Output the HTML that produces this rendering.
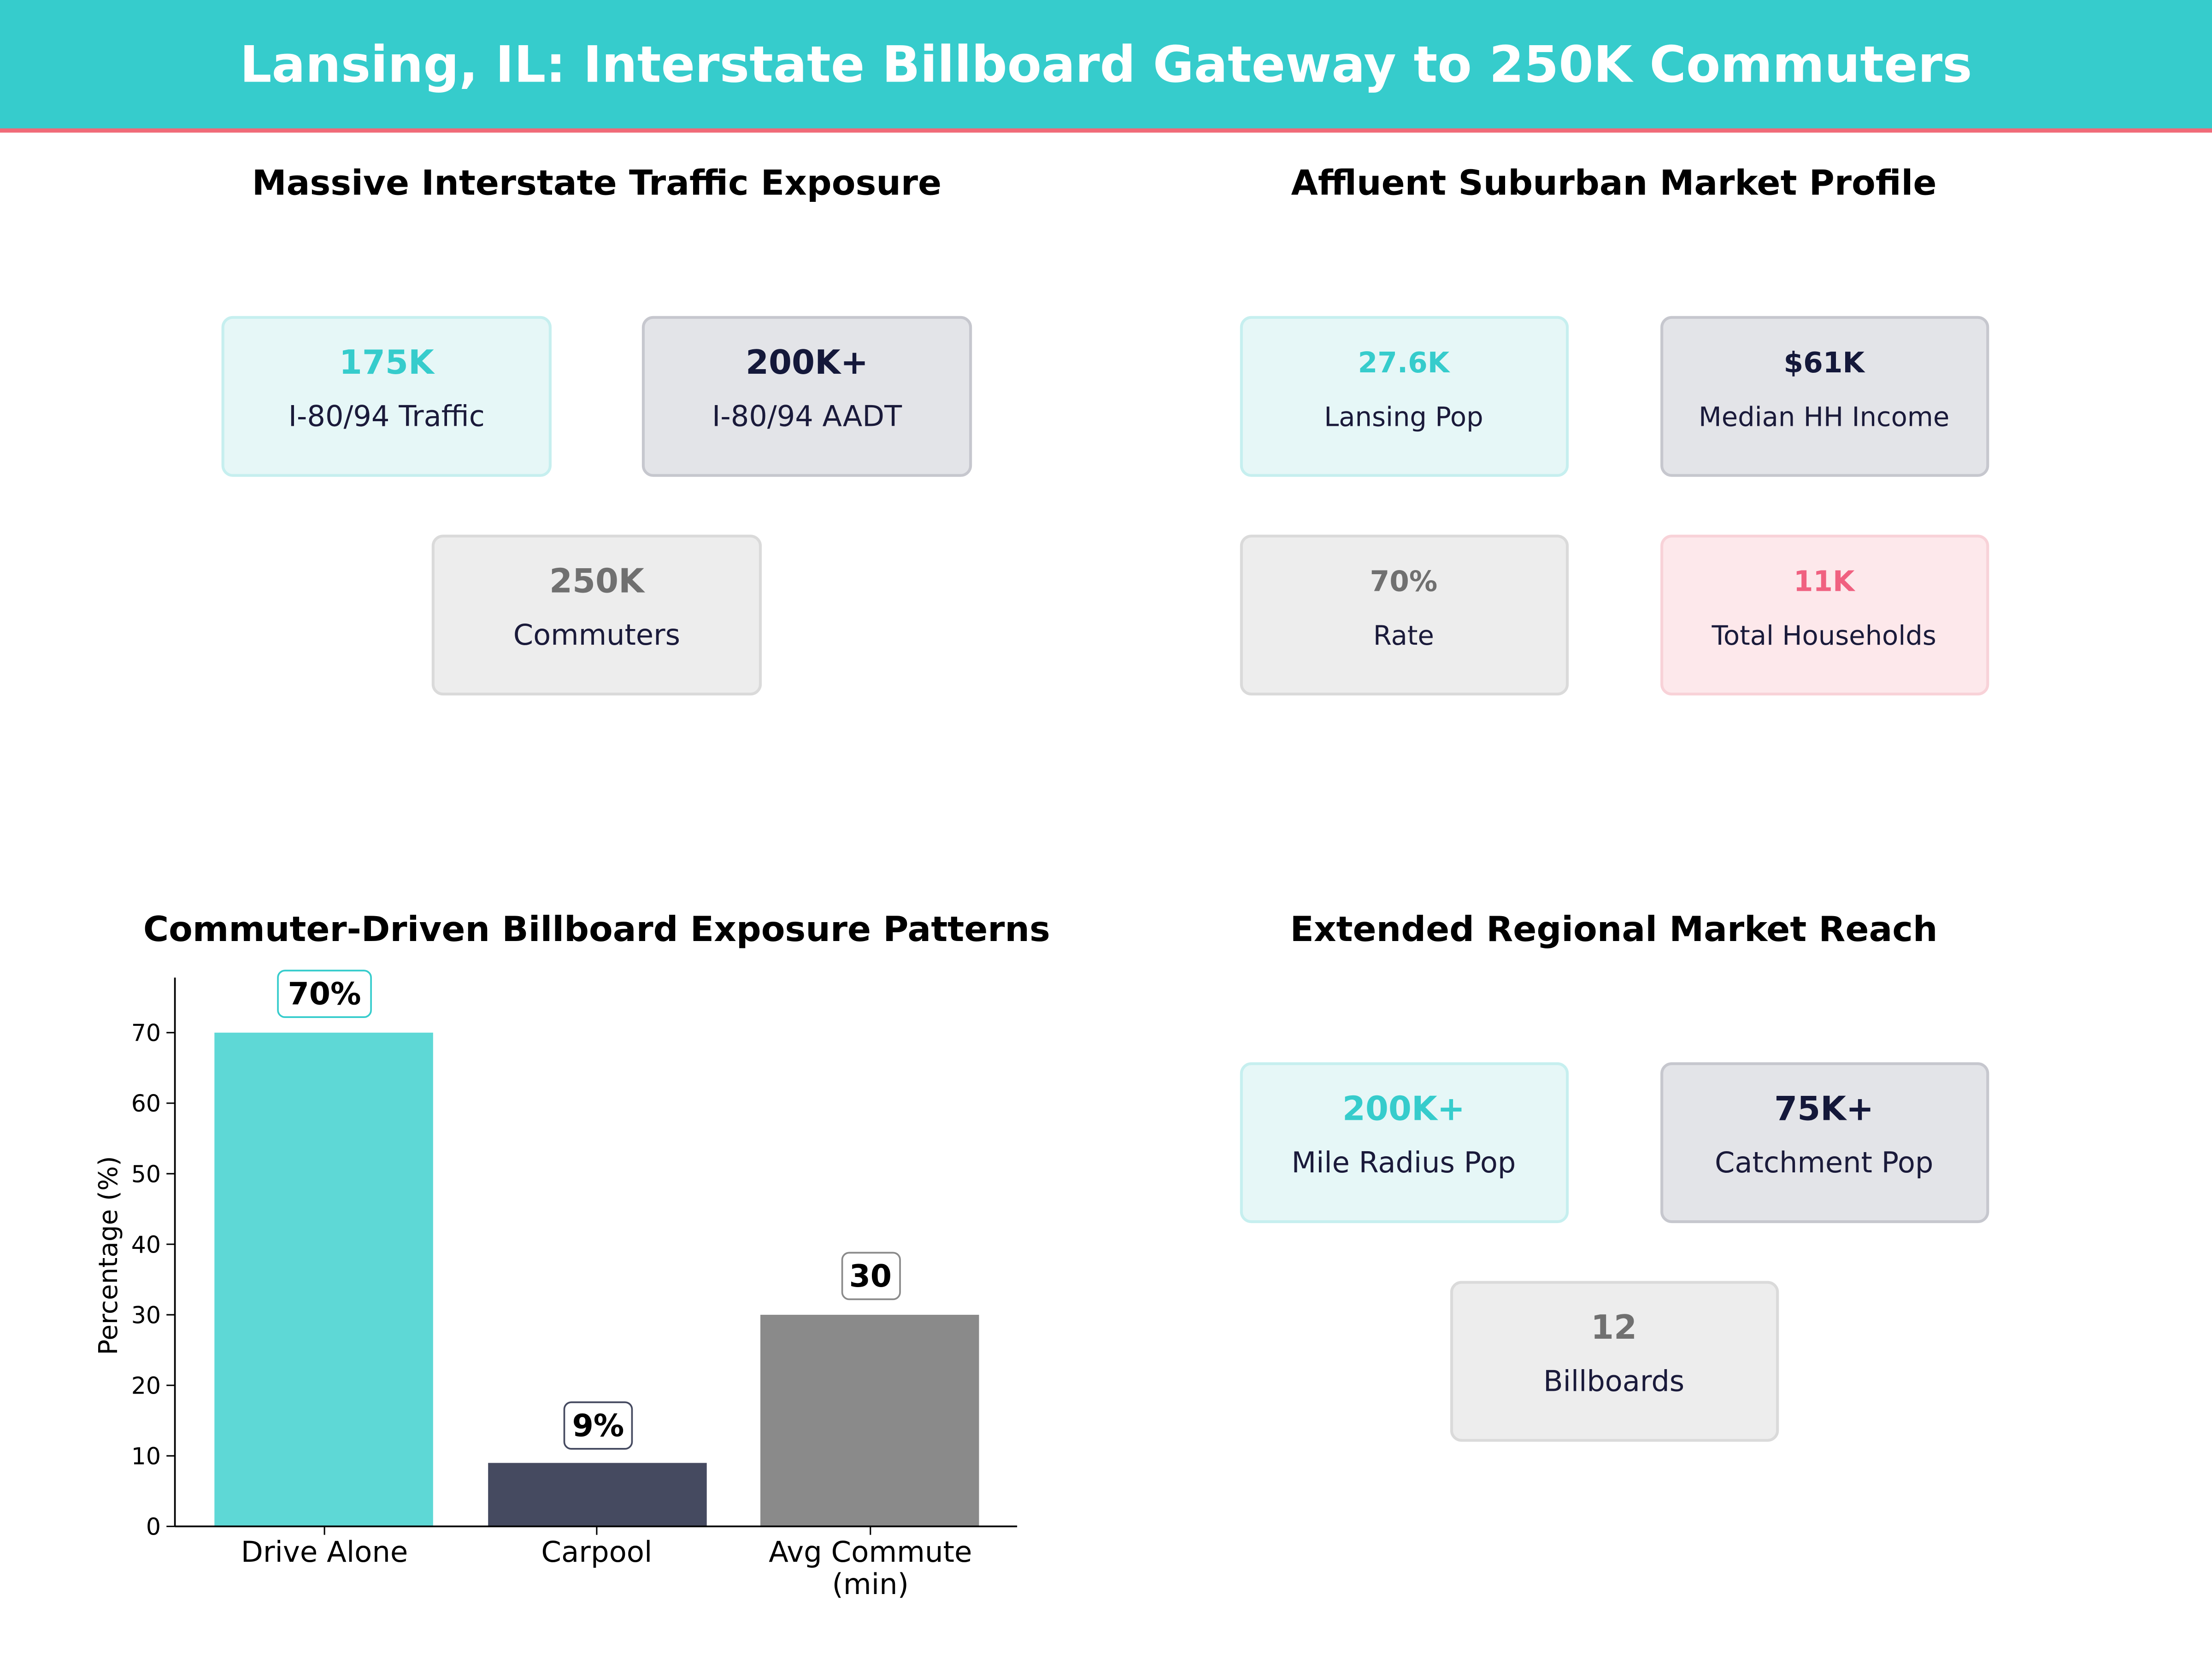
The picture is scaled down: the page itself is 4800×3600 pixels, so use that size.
<!DOCTYPE html>
<html><head><meta charset="utf-8"><style>
html,body{margin:0;padding:0;background:#fff}
svg{display:block}
text{font-family:"DejaVu Sans","Liberation Sans",sans-serif}
</style></head><body>
<svg width="4800" height="3600" viewBox="0 0 1568 1176" xmlns="http://www.w3.org/2000/svg">
<rect width="1568" height="1176" fill="#fff"/>
<rect x="0" y="0" width="1568" height="92" fill="#36CCCC"/>
<rect x="0" y="91" width="1568" height="3" fill="#F06A78"/>
<text x="784" y="58" text-anchor="middle" font-size="35.4" font-weight="bold" fill="#fff">Lansing, IL: Interstate Billboard Gateway to 250K Commuters</text>

<g font-weight="bold" font-size="24.6" text-anchor="middle" fill="#000">
<text x="423" y="138">Massive Interstate Traffic Exposure</text>
<text x="1144" y="138">Affluent Suburban Market Profile</text>
<text x="423" y="667">Commuter-Driven Billboard Exposure Patterns</text>
<text x="1144" y="667">Extended Regional Market Reach</text>
</g>

<g text-anchor="middle">
<rect x="158" y="225" width="232" height="112" rx="7" fill="#E6F7F7" stroke="#C6EFEF" stroke-width="2"/>
<text x="274" y="265" font-size="23.5" font-weight="bold" fill="#36CCCC">175K</text>
<text x="274" y="302" font-size="20.3" fill="#1a1a3a">I-80/94 Traffic</text>
<rect x="456" y="225" width="232" height="112" rx="7" fill="#E3E4E8" stroke="#C6C7CE" stroke-width="2"/>
<text x="572" y="265" font-size="23.5" font-weight="bold" fill="#14183A">200K+</text>
<text x="572" y="302" font-size="20.3" fill="#1a1a3a">I-80/94 AADT</text>
<rect x="307" y="380" width="232" height="112" rx="7" fill="#EDEDED" stroke="#DADADA" stroke-width="2"/>
<text x="423" y="420" font-size="23.5" font-weight="bold" fill="#707070">250K</text>
<text x="423" y="457" font-size="20.3" fill="#1a1a3a">Commuters</text>

<rect x="880" y="225" width="231" height="112" rx="7" fill="#E6F7F7" stroke="#C6EFEF" stroke-width="2"/>
<text x="995" y="264" font-size="20" font-weight="bold" fill="#36CCCC">27.6K</text>
<text x="995" y="302" font-size="18.8" fill="#1a1a3a">Lansing Pop</text>
<rect x="1178" y="225" width="231" height="112" rx="7" fill="#E3E4E8" stroke="#C6C7CE" stroke-width="2"/>
<text x="1293" y="264" font-size="20" font-weight="bold" fill="#14183A">$61K</text>
<text x="1293" y="302" font-size="18.8" fill="#1a1a3a">Median HH Income</text>
<rect x="880" y="380" width="231" height="112" rx="7" fill="#EDEDED" stroke="#DADADA" stroke-width="2"/>
<text x="995" y="419" font-size="20" font-weight="bold" fill="#707070">70%</text>
<text x="995" y="457" font-size="18.8" fill="#1a1a3a">Rate</text>
<rect x="1178" y="380" width="231" height="112" rx="7" fill="#FDE8EB" stroke="#F8D2D8" stroke-width="2"/>
<text x="1293" y="419" font-size="20" font-weight="bold" fill="#F06080">11K</text>
<text x="1293" y="457" font-size="18.8" fill="#1a1a3a">Total Households</text>

<rect x="880" y="754" width="231" height="112" rx="7" fill="#E6F7F7" stroke="#C6EFEF" stroke-width="2"/>
<text x="995" y="794" font-size="23.5" font-weight="bold" fill="#36CCCC">200K+</text>
<text x="995" y="831" font-size="20.3" fill="#1a1a3a">Mile Radius Pop</text>
<rect x="1178" y="754" width="231" height="112" rx="7" fill="#E3E4E8" stroke="#C6C7CE" stroke-width="2"/>
<text x="1293" y="794" font-size="23.5" font-weight="bold" fill="#14183A">75K+</text>
<text x="1293" y="831" font-size="20.3" fill="#1a1a3a">Catchment Pop</text>
<rect x="1029" y="909" width="231" height="112" rx="7" fill="#EDEDED" stroke="#DADADA" stroke-width="2"/>
<text x="1144" y="949" font-size="23.5" font-weight="bold" fill="#707070">12</text>
<text x="1144" y="986" font-size="20.3" fill="#1a1a3a">Billboards</text>
</g>

<rect x="152" y="732" width="155" height="350" fill="#5ED8D6"/>
<rect x="346" y="1037" width="155" height="45" fill="#454A60"/>
<rect x="539" y="932" width="155" height="150" fill="#8A8A8A"/>
<line x1="124" y1="693" x2="124" y2="1082" stroke="#000" stroke-width="1.2"/>
<line x1="124" y1="1082" x2="721" y2="1082" stroke="#000" stroke-width="1.2"/>
<g font-size="16.5" text-anchor="end" fill="#000">
<line x1="118" y1="1082" x2="124" y2="1082" stroke="#000"/><text x="114" y="1088">0</text>
<line x1="118" y1="1032" x2="124" y2="1032" stroke="#000"/><text x="114" y="1038">10</text>
<line x1="118" y1="982" x2="124" y2="982" stroke="#000"/><text x="114" y="988">20</text>
<line x1="118" y1="932" x2="124" y2="932" stroke="#000"/><text x="114" y="938">30</text>
<line x1="118" y1="882" x2="124" y2="882" stroke="#000"/><text x="114" y="888">40</text>
<line x1="118" y1="832" x2="124" y2="832" stroke="#000"/><text x="114" y="838">50</text>
<line x1="118" y1="782" x2="124" y2="782" stroke="#000"/><text x="114" y="788">60</text>
<line x1="118" y1="732" x2="124" y2="732" stroke="#000"/><text x="114" y="738">70</text>
</g>
<text transform="translate(83,890) rotate(-90)" font-size="18.4" text-anchor="middle">Percentage (%)</text>
<g font-size="20.4" text-anchor="middle" fill="#000">
<line x1="230" y1="1082" x2="230" y2="1088" stroke="#000"/><text x="230" y="1107">Drive Alone</text>
<line x1="423" y1="1082" x2="423" y2="1088" stroke="#000"/><text x="423" y="1107">Carpool</text>
<line x1="617" y1="1082" x2="617" y2="1088" stroke="#000"/><text x="617" y="1107">Avg Commute</text><text x="617" y="1130">(min)</text>
</g>
<g font-size="21.7" font-weight="bold" text-anchor="middle">
<rect x="197" y="688" width="66" height="33" rx="5" fill="#fff" stroke="#36CCCC" stroke-width="1.2"/>
<text x="230" y="712">70%</text>
<rect x="400" y="994" width="48" height="33" rx="5" fill="#fff" stroke="#454A60" stroke-width="1.2"/>
<text x="424" y="1018">9%</text>
<rect x="597" y="888" width="41" height="33" rx="5" fill="#fff" stroke="#8A8A8A" stroke-width="1.2"/>
<text x="617" y="912">30</text>
</g>
</svg>
</body></html>
